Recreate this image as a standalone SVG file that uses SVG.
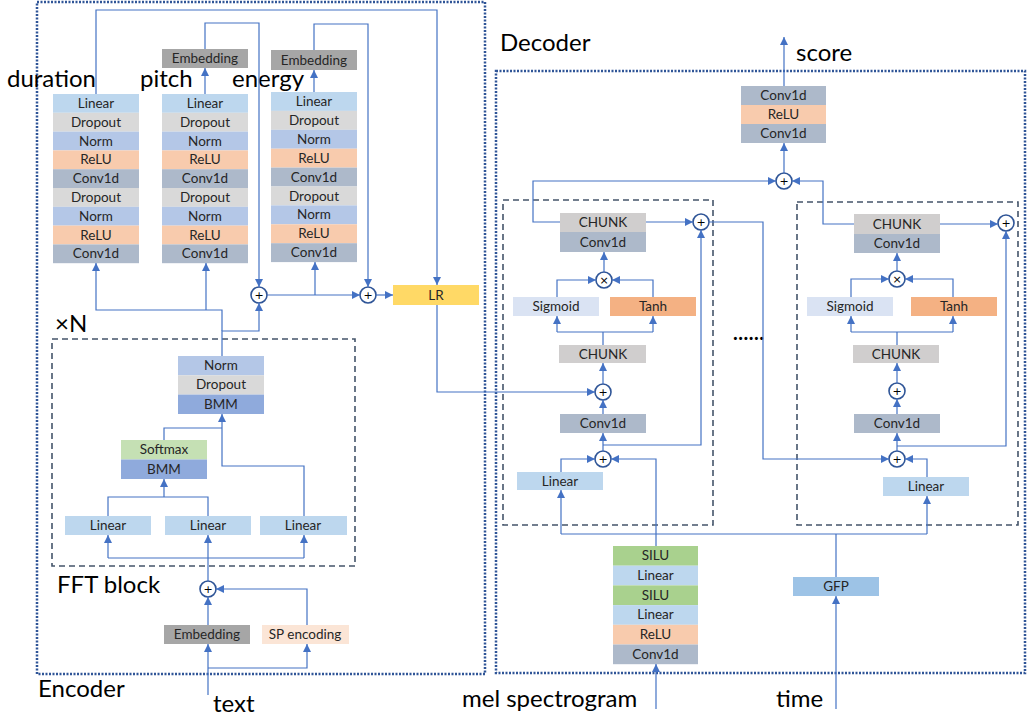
<svg xmlns="http://www.w3.org/2000/svg" width="1028" height="719" viewBox="0 0 1028 719">
<defs>
<marker id="arr" viewBox="0 0 10 10" refX="10" refY="5" markerWidth="8" markerHeight="8" markerUnits="userSpaceOnUse" orient="auto">
<path d="M0,0 L10,5 L0,10 z" fill="#4472C4"/>
</marker>
<style>
.bt{font-family:Lato,"Liberation Sans",sans-serif;font-size:13.5px;fill:#262626;text-anchor:middle}
.lb{font-family:Lato,"Liberation Sans",sans-serif;font-size:24px;fill:#000}
.lin{fill:#BDD7EE}.drp{fill:#D9D9D9}.nrm{fill:#B4C7E7}.relu{fill:#F8CBAD}.conv{fill:#ADB9CA}
.emb{fill:#A6A6A6}.bmm{fill:#8FAADC}.soft{fill:#C5E0B4}.silu{fill:#A9D18E}.chunk{fill:#D0CECE}
.sig{fill:#DAE3F3}.tanh{fill:#F4B183}.lr{fill:#FFD966}.gfp{fill:#9DC3E6}.sp{fill:#FBE5D6}
.c{fill:none;stroke:#4472C4;stroke-width:1.2}
.ca{fill:none;stroke:#4472C4;stroke-width:1.2;marker-end:url(#arr)}
.op{fill:#fff;stroke:#2F5597;stroke-width:1.6}
.opt{font-family:"DejaVu Sans",sans-serif;font-size:11px;fill:#000;text-anchor:middle}
.dot{fill:none;stroke:#2F5597;stroke-width:2.5;stroke-dasharray:2,1.5}
.dash{fill:none;stroke:#44546A;stroke-width:1.6;stroke-dasharray:6,4}
</style>
</defs>
<rect width="1028" height="719" fill="#fff"/>

<g id="frames">
<rect class="dot" x="37" y="2" width="448" height="672"/>
<rect class="dot" x="496" y="71" width="529" height="602"/>
<rect class="dash" x="52" y="339" width="303" height="227"/>
<rect class="dash" x="503" y="200" width="210" height="325"/>
<rect class="dash" x="797" y="202" width="221" height="323"/>
</g>

<g id="labels">
<text class="lb" x="7" y="87">duration</text>
<text class="lb" x="140" y="87">pitch</text>
<text class="lb" x="232" y="87">energy</text>
<text class="lb" x="55" y="332">×N</text>
<text class="lb" x="57" y="593">FFT block</text>
<text class="lb" x="38" y="697">Encoder</text>
<text class="lb" x="213" y="712">text</text>
<text class="lb" x="500" y="51">Decoder</text>
<text class="lb" x="796" y="61">score</text>
<text class="lb" x="462" y="707">mel spectrogram</text>
<text class="lb" x="776" y="707">time</text>
<text x="733" y="340" style="font-family:Lato,sans-serif;font-size:20px;font-weight:bold;letter-spacing:0.5px">......</text>
</g>

<g id="duration-predictor">
<rect class="lin" x="53" y="94" width="86" height="18.8"/><text class="bt" x="96" y="108">Linear</text>
<rect class="drp" x="53" y="112.8" width="86" height="18.8"/><text class="bt" x="96" y="126.8">Dropout</text>
<rect class="nrm" x="53" y="131.6" width="86" height="18.8"/><text class="bt" x="96" y="145.6">Norm</text>
<rect class="relu" x="53" y="150.4" width="86" height="18.8"/><text class="bt" x="96" y="164.4">ReLU</text>
<rect class="conv" x="53" y="169.2" width="86" height="18.8"/><text class="bt" x="96" y="183.2">Conv1d</text>
<rect class="drp" x="53" y="188" width="86" height="18.8"/><text class="bt" x="96" y="202">Dropout</text>
<rect class="nrm" x="53" y="206.8" width="86" height="18.8"/><text class="bt" x="96" y="220.8">Norm</text>
<rect class="relu" x="53" y="225.6" width="86" height="18.8"/><text class="bt" x="96" y="239.6">ReLU</text>
<rect class="conv" x="53" y="244.4" width="86" height="18.8"/><text class="bt" x="96" y="258.4">Conv1d</text>
</g>

<g id="pitch-predictor">
<rect class="lin" x="162" y="94" width="86" height="18.8"/><text class="bt" x="205" y="108">Linear</text>
<rect class="drp" x="162" y="112.8" width="86" height="18.8"/><text class="bt" x="205" y="126.8">Dropout</text>
<rect class="nrm" x="162" y="131.6" width="86" height="18.8"/><text class="bt" x="205" y="145.6">Norm</text>
<rect class="relu" x="162" y="150.4" width="86" height="18.8"/><text class="bt" x="205" y="164.4">ReLU</text>
<rect class="conv" x="162" y="169.2" width="86" height="18.8"/><text class="bt" x="205" y="183.2">Conv1d</text>
<rect class="drp" x="162" y="188" width="86" height="18.8"/><text class="bt" x="205" y="202">Dropout</text>
<rect class="nrm" x="162" y="206.8" width="86" height="18.8"/><text class="bt" x="205" y="220.8">Norm</text>
<rect class="relu" x="162" y="225.6" width="86" height="18.8"/><text class="bt" x="205" y="239.6">ReLU</text>
<rect class="conv" x="162" y="244.4" width="86" height="18.8"/><text class="bt" x="205" y="258.4">Conv1d</text>
</g>
<g id="pitch-embedding">
<rect class="emb" x="162" y="49" width="86" height="19"/><text class="bt" x="205" y="63">Embedding</text>
</g>

<g id="energy-predictor">
<rect class="lin" x="271" y="92" width="86" height="18.9"/><text class="bt" x="314" y="106">Linear</text>
<rect class="drp" x="271" y="110.9" width="86" height="18.9"/><text class="bt" x="314" y="124.9">Dropout</text>
<rect class="nrm" x="271" y="129.8" width="86" height="18.9"/><text class="bt" x="314" y="143.8">Norm</text>
<rect class="relu" x="271" y="148.7" width="86" height="18.9"/><text class="bt" x="314" y="162.7">ReLU</text>
<rect class="conv" x="271" y="167.6" width="86" height="18.9"/><text class="bt" x="314" y="181.6">Conv1d</text>
<rect class="drp" x="271" y="186.5" width="86" height="18.9"/><text class="bt" x="314" y="200.5">Dropout</text>
<rect class="nrm" x="271" y="205.4" width="86" height="18.9"/><text class="bt" x="314" y="219.4">Norm</text>
<rect class="relu" x="271" y="224.3" width="86" height="18.9"/><text class="bt" x="314" y="238.3">ReLU</text>
<rect class="conv" x="271" y="243.2" width="86" height="18.9"/><text class="bt" x="314" y="257.2">Conv1d</text>
</g>
<g id="energy-embedding">
<rect class="emb" x="271" y="50" width="86" height="20"/><text class="bt" x="314" y="64.5">Embedding</text>
</g>

<g id="lr">
<rect class="lr" x="393" y="285" width="86" height="20"/><text class="bt" x="436" y="299.5">LR</text>
</g>

<g id="enc-sum1"><circle class="op" cx="259" cy="295" r="8"/><text class="opt" x="259" y="299">+</text></g>
<g id="enc-sum2"><circle class="op" cx="368" cy="295" r="8"/><text class="opt" x="368" y="299">+</text></g>

<g id="fft-out">
<rect class="nrm" x="178" y="356" width="86" height="19.3"/><text class="bt" x="221" y="370">Norm</text>
<rect class="drp" x="178" y="375.3" width="86" height="19.3"/><text class="bt" x="221" y="389.3">Dropout</text>
<rect class="bmm" x="178" y="394.6" width="86" height="19.4"/><text class="bt" x="221" y="408.6">BMM</text>
</g>
<g id="fft-attn">
<rect class="soft" x="121" y="440" width="86" height="19.5"/><text class="bt" x="164" y="454">Softmax</text>
<rect class="bmm" x="121" y="459.5" width="86" height="19.5"/><text class="bt" x="164" y="473.5">BMM</text>
</g>
<g id="fft-linear-q"><rect class="lin" x="65" y="516" width="86" height="19"/><text class="bt" x="108" y="530">Linear</text></g>
<g id="fft-linear-k"><rect class="lin" x="165" y="516" width="86" height="19"/><text class="bt" x="208" y="530">Linear</text></g>
<g id="fft-linear-v"><rect class="lin" x="260" y="516" width="87" height="19"/><text class="bt" x="303" y="530">Linear</text></g>

<g id="enc-sum-in"><circle class="op" cx="208" cy="589" r="8"/><text class="opt" x="208" y="593">+</text></g>
<g id="text-embedding"><rect class="emb" x="164" y="625" width="86" height="19"/><text class="bt" x="207" y="639">Embedding</text></g>
<g id="sp-encoding"><rect class="sp" x="262" y="625" width="87" height="19"/><text class="bt" x="305" y="639">SP encoding</text></g>

<!-- Decoder left block -->
<g id="dl-chunk-top">
<rect class="chunk" x="560" y="213" width="86" height="19"/><text class="bt" x="603" y="227">CHUNK</text>
<rect class="conv" x="560" y="232" width="86" height="20"/><text class="bt" x="603" y="246.5">Conv1d</text>
</g>
<g id="dl-sum-out"><circle class="op" cx="701" cy="222" r="8"/><text class="opt" x="701" y="226">+</text></g>
<g id="dl-mul"><circle class="op" cx="604" cy="280" r="8"/><text class="opt" x="604" y="284">×</text></g>
<g id="dl-sigmoid"><rect class="sig" x="513" y="297" width="86" height="19"/><text class="bt" x="556" y="311">Sigmoid</text></g>
<g id="dl-tanh"><rect class="tanh" x="610" y="297" width="86" height="19"/><text class="bt" x="653" y="311">Tanh</text></g>
<g id="dl-chunk"><rect class="chunk" x="559" y="345" width="87" height="18"/><text class="bt" x="603" y="358.5">CHUNK</text></g>
<g id="dl-sum-mid"><circle class="op" cx="603" cy="392" r="8"/><text class="opt" x="603" y="396">+</text></g>
<g id="dl-conv"><rect class="conv" x="560" y="414" width="86" height="19"/><text class="bt" x="603" y="428">Conv1d</text></g>
<g id="dl-sum-in"><circle class="op" cx="603" cy="459" r="8"/><text class="opt" x="603" y="463">+</text></g>
<g id="dl-linear"><rect class="lin" x="517" y="472" width="86" height="18"/><text class="bt" x="560" y="485.5">Linear</text></g>

<!-- Decoder right block -->
<g id="dr-chunk-top">
<rect class="chunk" x="854" y="214" width="86" height="20"/><text class="bt" x="897" y="228.5">CHUNK</text>
<rect class="conv" x="854" y="234" width="86" height="19"/><text class="bt" x="897" y="248">Conv1d</text>
</g>
<g id="dr-sum-out"><circle class="op" cx="1006" cy="223" r="8"/><text class="opt" x="1006" y="227">+</text></g>
<g id="dr-mul"><circle class="op" cx="897" cy="279" r="8"/><text class="opt" x="897" y="283">×</text></g>
<g id="dr-sigmoid"><rect class="sig" x="807" y="297" width="86" height="19"/><text class="bt" x="850" y="311">Sigmoid</text></g>
<g id="dr-tanh"><rect class="tanh" x="911" y="297" width="86" height="19"/><text class="bt" x="954" y="311">Tanh</text></g>
<g id="dr-chunk"><rect class="chunk" x="853" y="345" width="86" height="18"/><text class="bt" x="896" y="358.5">CHUNK</text></g>
<g id="dr-sum-mid"><circle class="op" cx="897" cy="391" r="8"/><text class="opt" x="897" y="395">+</text></g>
<g id="dr-conv"><rect class="conv" x="854" y="414" width="86" height="19"/><text class="bt" x="897" y="428">Conv1d</text></g>
<g id="dr-sum-in"><circle class="op" cx="897" cy="459" r="8"/><text class="opt" x="897" y="463">+</text></g>
<g id="dr-linear"><rect class="lin" x="883" y="477" width="86" height="19"/><text class="bt" x="926" y="491">Linear</text></g>

<!-- Decoder top/bottom -->
<g id="dec-sum-skip"><circle class="op" cx="784" cy="181" r="8"/><text class="opt" x="784" y="185">+</text></g>
<g id="dec-out">
<rect class="conv" x="741" y="86" width="85" height="19"/><text class="bt" x="783.5" y="100">Conv1d</text>
<rect class="relu" x="741" y="105" width="85" height="19"/><text class="bt" x="783.5" y="119">ReLU</text>
<rect class="conv" x="741" y="124" width="85" height="19"/><text class="bt" x="783.5" y="138">Conv1d</text>
</g>
<g id="mel-encoder">
<rect class="silu" x="613" y="546" width="85" height="19.7"/><text class="bt" x="655.5" y="560.3">SILU</text>
<rect class="lin" x="613" y="565.7" width="85" height="19.7"/><text class="bt" x="655.5" y="580">Linear</text>
<rect class="silu" x="613" y="585.4" width="85" height="19.7"/><text class="bt" x="655.5" y="599.7">SILU</text>
<rect class="lin" x="613" y="605.1" width="85" height="19.7"/><text class="bt" x="655.5" y="619.4">Linear</text>
<rect class="relu" x="613" y="624.8" width="85" height="19.7"/><text class="bt" x="655.5" y="639.1">ReLU</text>
<rect class="conv" x="613" y="644.5" width="85" height="19.7"/><text class="bt" x="655.5" y="658.8">Conv1d</text>
</g>
<g id="gfp"><rect class="gfp" x="793" y="577" width="86" height="19"/><text class="bt" x="836" y="591">GFP</text></g>

<g id="connectors">
<!-- encoder variance adaptor -->
<path class="ca" d="M96,94 V10 H437 V285"/>
<path class="ca" d="M205,94 V68"/>
<path class="ca" d="M205,49 V23 H259 V287"/>
<path class="ca" d="M314,92 V70"/>
<path class="ca" d="M314,50 V24 H368 V287"/>
<path class="ca" d="M267,295 H360"/>
<path class="ca" d="M315,295 V262"/>
<path class="ca" d="M376,295 H393"/>
<path class="ca" d="M222,356 V331 H259 V303"/>
<path class="ca" d="M222,331 V310 H96 V263"/>
<path class="ca" d="M206,310 V263"/>
<path class="ca" d="M437,305 V392 H595"/>
<!-- FFT block -->
<path class="c" d="M108,516 V497 H208 V516"/>
<path class="ca" d="M164,497 V479"/>
<path class="c" d="M164,440 V428 H222"/>
<path class="ca" d="M304,516 V466 H222 V414"/>
<path class="ca" d="M208,581 V535"/>
<path class="c" d="M108,558 H304"/>
<path class="ca" d="M108,558 V535"/>
<path class="ca" d="M304,558 V535"/>
<!-- encoder input -->
<path class="ca" d="M208,625 V597"/>
<path class="ca" d="M307,625 V589 H216"/>
<path class="ca" d="M208,695 V644"/>
<path class="ca" d="M208,668 H307 V644"/>
<!-- decoder left block -->
<path class="ca" d="M646,222 H693"/>
<path class="ca" d="M560,222 H533 V181 H776"/>
<path class="ca" d="M604,272 V252"/>
<path class="ca" d="M557,297 V280 H596"/>
<path class="ca" d="M653,297 V280 H612"/>
<path class="c" d="M603,345 V332 M557,332 H653"/>
<path class="ca" d="M557,332 V316"/>
<path class="ca" d="M653,332 V316"/>
<path class="ca" d="M603,384 V363"/>
<path class="ca" d="M603,414 V400"/>
<path class="ca" d="M603,451 V433"/>
<path class="ca" d="M603,445 H701 V230"/>
<path class="ca" d="M561,472 V459 H595"/>
<path class="ca" d="M656,546 V459 H611"/>
<!-- between blocks -->
<path class="ca" d="M709,222 H763 V459 H889"/>
<!-- decoder right block -->
<path class="ca" d="M940,224 H998"/>
<path class="ca" d="M854,224 H823 V181 H792"/>
<path class="ca" d="M897,271 V253"/>
<path class="ca" d="M851,297 V279 H889"/>
<path class="ca" d="M953,297 V279 H905"/>
<path class="c" d="M897,345 V332 M851,332 H953"/>
<path class="ca" d="M851,332 V316"/>
<path class="ca" d="M953,332 V316"/>
<path class="ca" d="M897,383 V363"/>
<path class="ca" d="M897,414 V399"/>
<path class="ca" d="M897,451 V433"/>
<path class="ca" d="M897,446 H1006 V231"/>
<path class="ca" d="M927,477 V459 H905"/>
<!-- time conditioning -->
<path class="c" d="M561,534 H927 M836,577 V534"/>
<path class="ca" d="M561,534 V490"/>
<path class="ca" d="M927,534 V496"/>
<path class="ca" d="M836,709 V596"/>
<path class="ca" d="M656,709 V664"/>
<!-- output -->
<path class="ca" d="M784,173 V143"/>
<path class="ca" d="M784,86 V37"/>
</g>
</svg>
